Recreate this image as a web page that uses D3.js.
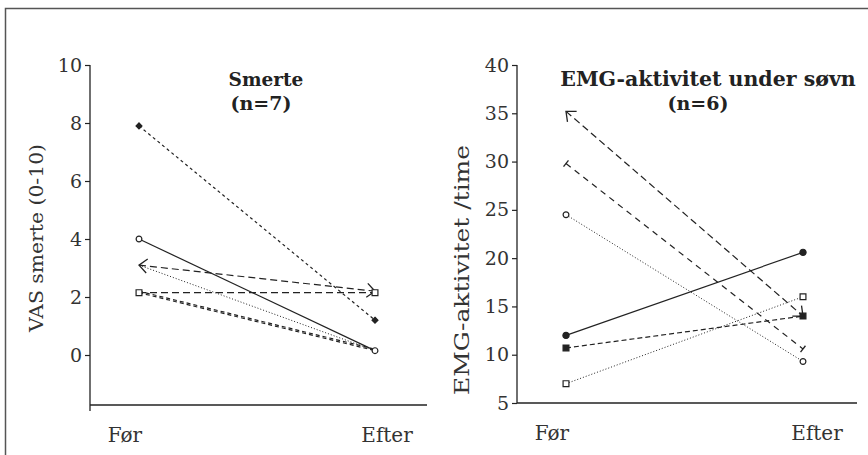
<!DOCTYPE html>
<html>
<head>
<meta charset="utf-8">
<script src="https://cdn.jsdelivr.net/npm/d3@7"></script>
<style>
  body { margin: 0; background: #fff; }
  svg { display: block; font-family: "DejaVu Serif", serif; }
</style>
</head>
<body>
<svg id="chart" width="868" height="455"></svg>
<script>
// ---- data ----
const periods = ["Før", "Efter"];

// Smerte (VAS 0-10), one entry per patient
const painBefore = [7.9, 4.0, 3.1, 3.1, 2.15, 2.15, 2.2];
const painAfter  = [1.2, 0.15, 2.2, 0.15, 2.15, 0.15, 0.2];
const painStyle  = ["diamond", "circleOpen", "arrow", "dotted", "squareOpen", "dashed", "dashed"];
const painTicks  = [0, 2, 4, 6, 8, 10];

// EMG-aktivitet /time
const emgBefore = [35.2, 29.8, 24.5, 12.0, 10.7, 7.0];
const emgAfter  = [14.0, 10.6, 9.3, 20.6, 14.0, 16.0];
const emgStyle  = ["arrow", "bar", "circleDotted", "circleFilled", "squareFilled", "squareDotted"];
const emgTicks  = [5, 10, 15, 20, 25, 30, 35, 40];

const svg = d3.select('#chart');

// outer frame (right and bottom edges fall outside the picture)
svg.append('rect')
  .attr('x', 5.5).attr('y', 8.5)
  .attr('width', 1000).attr('height', 600)
  .attr('fill', 'none').attr('stroke', '#555').attr('stroke-width', 1.5);

// arrow + bar markers
const defs = svg.append('defs');
defs.append('marker')
  .attr('id', 'chev').attr('viewBox', '-10 -8 14 16')
  .attr('markerWidth', 14).attr('markerHeight', 16)
  .attr('markerUnits', 'userSpaceOnUse')
  .attr('refX', 0).attr('refY', 0)
  .attr('orient', 'auto-start-reverse')
  .append('path').attr('d', 'M-8,-7 L0,0 L-8,7')
  .attr('fill', 'none').attr('stroke', '#222').attr('stroke-width', 1.3);
defs.append('marker')
  .attr('id', 'bar').attr('viewBox', '-6 -6 12 12')
  .attr('markerWidth', 12).attr('markerHeight', 12)
  .attr('markerUnits', 'userSpaceOnUse')
  .attr('refX', 0).attr('refY', 0)
  .attr('orient', 'auto')
  .append('path').attr('d', 'M0,-4 L0,4')
  .attr('fill', 'none').attr('stroke', '#222').attr('stroke-width', 1.3);

const DASH = {
  diamond: '3,3', circleOpen: null, arrow: '7,4', dotted: '1,2',
  squareOpen: '7,4', dashed: '4,3',
  bar: '6,5', circleDotted: '1,2', circleFilled: null,
  squareFilled: '5,3', squareDotted: '1,2'
};

function panel(cfg) {
  const g = svg.append('g');
  const y = d3.scaleLinear().domain(cfg.yDomain).range(cfg.yRange);
  const x = d3.scaleLinear().domain([0, 1]).range(cfg.xRange);

  // y axis
  const yAxis = g.append('g')
    .attr('transform', `translate(${cfg.axisX},0)`)
    .call(d3.axisLeft(y).tickValues(cfg.ticks).tickSize(5).tickPadding(3).tickSizeOuter(0));
  yAxis.select('.domain').remove();
  yAxis.selectAll('line').attr('stroke', '#222').attr('stroke-width', 1.2);
  yAxis.selectAll('text').attr('font-size', 19).attr('fill', '#333')
    .attr('font-family', '"DejaVu Serif", serif');
  g.append('line')
    .attr('x1', cfg.axisX).attr('x2', cfg.axisX)
    .attr('y1', y(cfg.ticks[cfg.ticks.length - 1])).attr('y2', cfg.axisBottom + cfg.yOver)
    .attr('stroke', '#222').attr('stroke-width', 1.3);
  // x axis
  g.append('line')
    .attr('x1', cfg.axisX).attr('x2', cfg.axisRight)
    .attr('y1', cfg.axisBottom).attr('y2', cfg.axisBottom)
    .attr('stroke', '#222').attr('stroke-width', 1.3);
  g.selectAll('text.per')
    .data(periods)
    .join('text')
    .attr('class', 'per')
    .attr('x', (d, i) => x(i) + cfg.labelShift[i])
    .attr('y', cfg.axisBottom + 37)
    .attr('text-anchor', 'middle')
    .attr('font-size', 20).attr('fill', '#333')
    .text(d => d);

  // y label
  g.append('text')
    .attr('transform', `translate(${cfg.labelX},${cfg.labelY}) rotate(-90)`)
    .attr('text-anchor', 'middle')
    .attr('font-size', cfg.labelSize).attr('fill', '#333')
    .attr('textLength', cfg.labelLen).attr('lengthAdjust', 'spacingAndGlyphs')
    .text(cfg.yLabel);

  // title
  cfg.title.forEach((t, i) => {
    g.append('text')
      .attr('x', cfg.titleX[i]).attr('y', 86 + i * 24)
      .attr('text-anchor', 'middle')
      .attr('font-size', cfg.titleSize[i]).attr('font-weight', 'bold').attr('fill', '#222')
      .text(t);
  });

  const rows = cfg.before.map((b, i) => ({ b, a: cfg.after[i], s: cfg.style[i] }));

  // lines
  g.selectAll('line.pt')
    .data(rows)
    .join('line')
    .attr('class', 'pt')
    .attr('x1', x(0)).attr('x2', x(1))
    .attr('y1', d => y(d.b)).attr('y2', d => y(d.a))
    .attr('stroke', '#222').attr('stroke-width', d => d.s.includes('otted') || d.s === 'dotted' ? 1 : 1.2)
    .attr('stroke-dasharray', d => DASH[d.s])
    .attr('marker-start', d => d.s === 'arrow' ? 'url(#chev)' : d.s === 'bar' ? 'url(#bar)' : null)
    .attr('marker-end', d => d.s === 'arrow' ? 'url(#chev)' : d.s === 'bar' ? 'url(#bar)' : null);

  // point symbols
  const symFor = s => {
    if (s === 'diamond') return { t: d3.symbolDiamond2, size: 22, fill: '#222' };
    if (s === 'circleOpen' || s === 'circleDotted') return { t: d3.symbolCircle, size: 26, fill: '#fff' };
    if (s === 'circleFilled') return { t: d3.symbolCircle, size: 30, fill: '#222' };
    if (s === 'squareOpen' || s === 'squareDotted') return { t: d3.symbolSquare, size: 34, fill: '#fff' };
    if (s === 'squareFilled') return { t: d3.symbolSquare, size: 34, fill: '#222' };
    return null;
  };
  const pts = [];
  rows.forEach(r => {
    const sym = symFor(r.s);
    if (!sym) return;
    pts.push({ x: x(0), y: y(r.b), sym });
    pts.push({ x: x(1), y: y(r.a), sym });
  });
  g.selectAll('path.sym')
    .data(pts)
    .join('path')
    .attr('class', 'sym')
    .attr('transform', d => `translate(${d.x},${d.y})`)
    .attr('d', d => d3.symbol(d.sym.t, d.sym.size)())
    .attr('fill', d => d.sym.fill)
    .attr('stroke', '#222').attr('stroke-width', 1.2);
}

panel({
  yDomain: [0, 10], yRange: [355, 65], ticks: painTicks,
  xRange: [139, 375], axisX: 90, axisRight: 427, axisBottom: 405, yOver: 6,
  labelShift: [-14, 12], labelX: 43, labelY: 238, labelSize: 19, labelLen: 188,
  yLabel: 'VAS smerte (0-10)',
  title: ['Smerte', '(n=7)'], titleX: [266, 261], titleSize: [18.5, 19],
  before: painBefore, after: painAfter, style: painStyle
});

panel({
  yDomain: [5, 40], yRange: [403, 65], ticks: emgTicks,
  xRange: [566, 803], axisX: 517, axisRight: 857, axisBottom: 403, yOver: 0,
  labelShift: [-14, 14], labelX: 469, labelY: 270, labelSize: 21, labelLen: 250,
  yLabel: 'EMG-aktivitet /time',
  title: ['EMG-aktivitet under søvn', '(n=6)'], titleX: [708, 698], titleSize: [20.5, 19],
  before: emgBefore, after: emgAfter, style: emgStyle
});
</script>
</body>
</html>
